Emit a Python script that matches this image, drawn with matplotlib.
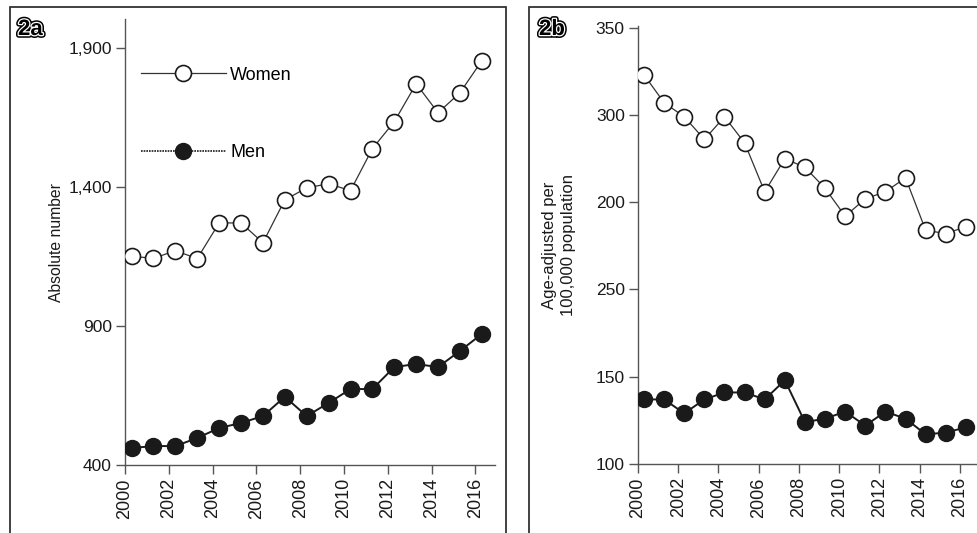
import matplotlib

matplotlib.use("Agg")
import matplotlib.pyplot as plt
import matplotlib.patheffects as pe
from matplotlib.lines import Line2D
from matplotlib.patches import Rectangle

plt.rcParams["font.family"] = ["Liberation Sans", "DejaVu Sans"]

INK = "#1a1a1a"
AXIS = "#555555"

# data; points sit ~0.3 yr to the right of each tick
years = list(range(2000, 2017))
x_offset = 0.3

women_abs = [1150, 1143, 1170, 1142, 1270, 1270, 1199, 1353, 1396, 1411,
             1386, 1537, 1634, 1770, 1666, 1738, 1853]
men_abs = [461, 468, 468, 497, 533, 551, 576, 645, 576, 623,
           673, 673, 752, 763, 752, 810, 871]

# right panel values on the drawn (linear) axis
women_rate = [323, 307, 299, 286, 299, 284, 256, 275, 270, 258,
              242, 252, 256, 264, 234, 232, 236]
men_rate = [137, 137, 129, 137, 141, 141, 137, 148, 124, 126,
            130, 122, 130, 126, 117, 118, 121]

abs_ticks = [400, 900, 1400, 1900]
abs_labels = ["400", "900", "1,400", "1,900"]
rate_ticks = [100, 150, 200, 250, 300, 350]
rate_labels = ["100", "150", "250", "200", "300", "350"]  # as printed in the source
year_ticks = list(range(2000, 2017, 2))

W, H = 978, 533
fig = plt.figure(figsize=(W / 100, H / 100), dpi=100)


def px_axes(left, top, right, bottom):
    return fig.add_axes([left / W, 1 - bottom / H, (right - left) / W, (bottom - top) / H])


def style(ax):
    for side in ("top", "right"):
        ax.spines[side].set_visible(False)
    for side in ("left", "bottom"):
        ax.spines[side].set_color(AXIS)
        ax.spines[side].set_linewidth(1.0)
    ax.tick_params(axis="both", direction="out", length=6.5, width=1.0,
                   color=AXIS, labelsize=12.5, labelcolor=INK)
    ax.tick_params(axis="y", pad=3)
    ax.tick_params(axis="x", pad=3, labelrotation=90, labelsize=13)
    ax.set_xticks(year_ticks)
    ax.set_xticklabels([str(y) for y in year_ticks])


def draw_series(ax, xs, women, men):
    ax.plot(xs, women, color="#333333", lw=0.9, marker="o", ms=11.5,
            mfc="white", mec=INK, mew=1.2, zorder=3)
    ax.plot(xs, men, color=INK, lw=1.4, marker="o", ms=11.5,
            mfc=INK, mec=INK, mew=1.0, zorder=3)


xs = [y + x_offset for y in years]

# --- left panel: absolute number --------------------------------------------
ax_a = px_axes(125, 19, 495, 465)
draw_series(ax_a, xs, women_abs, men_abs)
ax_a.set_xlim(2000, 2016.9)
ax_a.set_ylim(400, 2003)
ax_a.set_yticks(abs_ticks)
ax_a.set_yticklabels(abs_labels)
style(ax_a)
ax_a.set_ylabel("Absolute number", fontsize=11.3, color=INK, va="center")
ax_a.yaxis.set_label_coords(-0.184, 0.5)

handles = [
    Line2D([], [], color="#333333", lw=0.9, marker="o", ms=11.5,
           mfc="white", mec=INK, mew=1.2),
    Line2D([], [], color=INK, lw=1.2, ls=(0, (1, 0.6)), marker="o", ms=11.5,
           mfc=INK, mec=INK),
]
ax_a.legend(handles, ["Women", "Men"], loc="upper left",
            bbox_to_anchor=(0.043, 0.893), frameon=False, fontsize=13,
            handlelength=4.7, handletextpad=0.25, labelspacing=3.35,
            borderpad=0, borderaxespad=0, numpoints=1)

# --- right panel: age-adjusted rate -----------------------------------------
ax_b = px_axes(638, 26, 990, 464)
draw_series(ax_b, xs, women_rate, men_rate)
ax_b.set_xlim(2000, 2017.5)
ax_b.set_ylim(100, 351)
ax_b.set_yticks(rate_ticks)
ax_b.set_yticklabels(rate_labels)
style(ax_b)
ax_b.set_ylabel("Age-adjusted per\n100,000 population", fontsize=12,
                color=INK, va="center", linespacing=1.3)
ax_b.yaxis.set_label_coords(-0.224, 0.5)

# --- panel frames and tags --------------------------------------------------
for left, right in ((10, 506), (529, 1000)):
    fig.patches.append(Rectangle(
        (left / W, -0.1), (right - left) / W, (H - 7) / H + 0.1,
        transform=fig.transFigure, fill=False, ec="#333333", lw=1.3,
    ))

tag_effects = [pe.Stroke(linewidth=4, foreground="black"),
               pe.Stroke(linewidth=1.8, foreground="white"),
               pe.Normal()]
for x, tag in ((18, "2a"), (539, "2b")):
    fig.text(x / W, 1 - 35 / H, tag, fontsize=16, fontweight="bold",
             color="black", va="baseline", ha="left",
             path_effects=tag_effects)

fig.savefig("out.png", dpi=100)
